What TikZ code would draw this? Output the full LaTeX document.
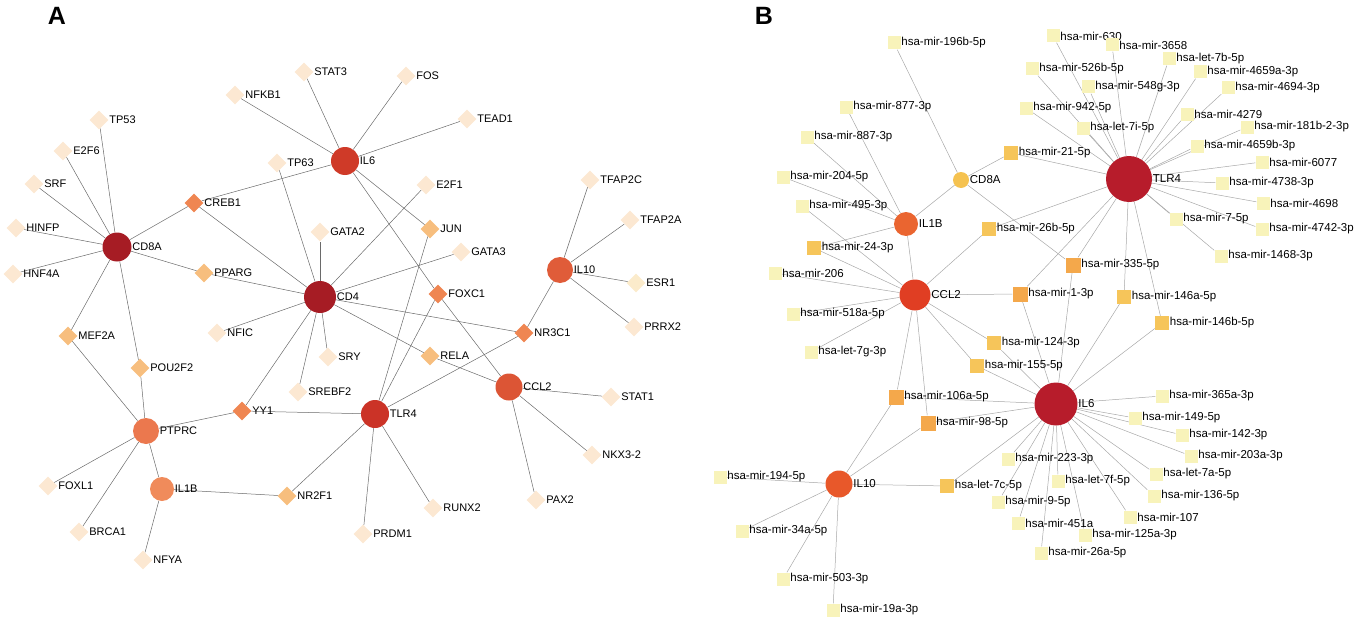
\documentclass[tikz,border=0pt]{standalone}
\usepackage{fontspec}
\setmainfont{Liberation Sans}
\usetikzlibrary{shapes.geometric,backgrounds}
\definecolor{hubdark}{HTML}{A61C24}
\definecolor{hubred}{HTML}{CF3A28}
\definecolor{hubtlr}{HTML}{CB3327}
\definecolor{hubccl}{HTML}{DC5535}
\definecolor{hubten}{HTML}{E05C39}
\definecolor{hubptp}{HTML}{EB784E}
\definecolor{hubonebee}{HTML}{F08B5B}
\definecolor{tfpale}{HTML}{FCE8D2}
\definecolor{tforange}{HTML}{EF8652}
\definecolor{tflight}{HTML}{F7BE7E}
\definecolor{mhub}{HTML}{B71C2B}
\definecolor{mccl}{HTML}{E03E23}
\definecolor{monebee}{HTML}{EA6530}
\definecolor{mten}{HTML}{E8582A}
\definecolor{mcd}{HTML}{F5C250}
\definecolor{mirpale}{HTML}{F8F3BA}
\definecolor{mirorange}{HTML}{F4A84B}
\definecolor{miryellow}{HTML}{F6C55A}
\definecolor{linkdark}{HTML}{6A6A6A}
\definecolor{linklight}{HTML}{A8A8A8}

\begin{document}
\begin{tikzpicture}[x=1pt,y=1pt]
\tikzstyle{every node}+=[inner sep=0pt]
\tikzstyle{hub}=[circle,draw=none]
\tikzstyle{tf}=[diamond,minimum size=19pt,fill=tfpale]
\tikzstyle{mir}=[rectangle,minimum size=13pt,fill=mirpale]
\tikzstyle{mirbig}=[rectangle,minimum size=15pt]
\tikzstyle{linka}=[draw=linkdark,line width=0.5pt]
\tikzstyle{linkb}=[draw=linklight,line width=0.5pt]
\tikzstyle{panel}=[font=\fontsize{25}{28}\selectfont\bfseries]
\useasboundingbox (0,0) rectangle (1358,-618);

\node[panel] (pa) at (57,-16) {A};
\node[panel] (pb) at (764,-16) {B};

\begin{scope}[every label/.style={font=\fontsize{11}{13}\selectfont,label distance=0.5pt}]
\node[hub,minimum size=29pt,fill=hubdark,label=right:CD8A] (aCD8A) at (117,-247) {};
\node[hub,minimum size=32pt,fill=hubdark,label=right:CD4] (aCD4) at (320,-297) {};
\node[hub,minimum size=28pt,fill=hubred,label=right:IL6] (aIL6) at (345,-161) {};
\node[hub,minimum size=28pt,fill=hubtlr,label=right:TLR4] (aTLR4) at (375,-414) {};
\node[hub,minimum size=27pt,fill=hubccl,label=right:CCL2] (aCCL2) at (509,-387) {};
\node[hub,minimum size=26pt,fill=hubten,label=right:IL10] (aIL10) at (560,-270) {};
\node[hub,minimum size=26pt,fill=hubptp,label=right:PTPRC] (aPTPRC) at (146,-431) {};
\node[hub,minimum size=24pt,fill=hubonebee,label=right:IL1B] (aIL1B) at (162,-489) {};

\node[tf,label=right:TP53] (aTP53) at (99,-120) {};
\node[tf,label=right:E2F6] (aE2F6) at (63,-151) {};
\node[tf,label=right:SRF] (aSRF) at (34,-184) {};
\node[tf,label=right:HINFP] (aHINFP) at (16,-228) {};
\node[tf,label=right:HNF4A] (aHNF4A) at (13,-274) {};
\node[tf,fill=tforange,label=right:CREB1] (aCREB1) at (194,-203) {};
\node[tf,fill=tflight,label=right:PPARG] (aPPARG) at (204,-273) {};
\node[tf,label=right:NFKB1] (aNFKB1) at (235,-95) {};
\node[tf,label=right:STAT3] (aSTAT3) at (304,-72) {};
\node[tf,label=right:TP63] (aTP63) at (277,-163) {};
\node[tf,label=right:GATA2] (aGATA2) at (320,-232) {};
\node[tf,label=right:FOS] (aFOS) at (406,-76) {};
\node[tf,label=right:TEAD1] (aTEAD1) at (467,-119) {};
\node[tf,label=right:E2F1] (aE2F1) at (426,-185) {};
\node[tf,fill=tflight,label=right:JUN] (aJUN) at (430,-229) {};
\node[tf,label=right:GATA3] (aGATA3) at (461,-252) {};
\node[tf,fill=tforange,label=right:FOXC1] (aFOXC1) at (438,-294) {};
\node[tf,label=right:TFAP2C] (aTFAP2C) at (590,-180) {};
\node[tf,label=right:TFAP2A] (aTFAP2A) at (630,-220) {};
\node[tf,fill=tfpale!70!mirpale,label=right:ESR1] (aESR1) at (636,-283) {};
\node[tf,label=right:PRRX2] (aPRRX2) at (634,-327) {};
\node[tf,fill=tforange,label=right:NR3C1] (aNR3C1) at (524,-333) {};
\node[tf,fill=tflight,label=right:RELA] (aRELA) at (430,-356) {};
\node[tf,fill=tflight,label=right:MEF2A] (aMEF2A) at (68,-336) {};
\node[tf,fill=tflight,label=right:POU2F2] (aPOU2F2) at (140,-368) {};
\node[tf,label=right:NFIC] (aNFIC) at (217,-333) {};
\node[tf,fill=tforange,label=right:YY1] (aYY1) at (242,-411) {};
\node[tf,label=right:SREBF2] (aSREBF2) at (298,-392) {};
\node[tf,label=right:SRY] (aSRY) at (328,-357) {};
\node[tf,label=right:FOXL1] (aFOXL1) at (48,-486) {};
\node[tf,label=right:BRCA1] (aBRCA1) at (79,-532) {};
\node[tf,label=right:NFYA] (aNFYA) at (143,-560) {};
\node[tf,fill=tflight,label=right:NR2F1] (aNR2F1) at (287,-496) {};
\node[tf,label=right:STAT1] (aSTAT1) at (611,-397) {};
\node[tf,label=right:NKX3-2] (aNKX) at (592,-455) {};
\node[tf,label=right:PAX2] (aPAX2) at (536,-500) {};
\node[tf,label=right:RUNX2] (aRUNX2) at (433,-508) {};
\node[tf,label=right:PRDM1] (aPRDM1) at (363,-534) {};
\end{scope}

\begin{scope}[on background layer]
\draw[linka] (aCD8A) -- (aTP53);
\draw[linka] (aCD8A) -- (aE2F6);
\draw[linka] (aCD8A) -- (aSRF);
\draw[linka] (aCD8A) -- (aHINFP);
\draw[linka] (aCD8A) -- (aHNF4A);
\draw[linka] (aCD8A) -- (aCREB1);
\draw[linka] (aCD8A) -- (aPPARG);
\draw[linka] (aCD8A) -- (aMEF2A);
\draw[linka] (aCD8A) -- (aPOU2F2);
\draw[linka] (aMEF2A) -- (aPTPRC);
\draw[linka] (aPOU2F2) -- (aPTPRC);
\draw[linka] (aPTPRC) -- (aFOXL1);
\draw[linka] (aPTPRC) -- (aBRCA1);
\draw[linka] (aPTPRC) -- (aIL1B);
\draw[linka] (aPTPRC) -- (aYY1);
\draw[linka] (aIL1B) -- (aNFYA);
\draw[linka] (aIL1B) -- (aNR2F1);
\draw[linka] (aCREB1) -- (aIL6);
\draw[linka] (aCREB1) -- (aCD4);
\draw[linka] (aPPARG) -- (aCD4);
\draw[linka] (aIL6) -- (aNFKB1);
\draw[linka] (aIL6) -- (aSTAT3);
\draw[linka] (aIL6) -- (aFOS);
\draw[linka] (aIL6) -- (aTEAD1);
\draw[linka] (aIL6) -- (aJUN);
\draw[linka] (aIL6) -- (aFOXC1);
\draw[linka] (aCD4) -- (aTP63);
\draw[linka] (aCD4) -- (aGATA2);
\draw[linka] (aCD4) -- (aE2F1);
\draw[linka] (aCD4) -- (aGATA3);
\draw[linka] (aCD4) -- (aNR3C1);
\draw[linka] (aCD4) -- (aRELA);
\draw[linka] (aCD4) -- (aSRY);
\draw[linka] (aCD4) -- (aSREBF2);
\draw[linka] (aCD4) -- (aYY1);
\draw[linka] (aCD4) -- (aNFIC);
\draw[linka] (aJUN) -- (aTLR4);
\draw[linka] (aFOXC1) -- (aTLR4);
\draw[linka] (aFOXC1) -- (aCCL2);
\draw[linka] (aNR3C1) -- (aTLR4);
\draw[linka] (aNR3C1) -- (aIL10);
\draw[linka] (aRELA) -- (aCCL2);
\draw[linka] (aYY1) -- (aTLR4);
\draw[linka] (aNR2F1) -- (aTLR4);
\draw[linka] (aTLR4) -- (aPRDM1);
\draw[linka] (aTLR4) -- (aRUNX2);
\draw[linka] (aCCL2) -- (aSTAT1);
\draw[linka] (aCCL2) -- (aNKX);
\draw[linka] (aCCL2) -- (aPAX2);
\draw[linka] (aIL10) -- (aTFAP2C);
\draw[linka] (aIL10) -- (aTFAP2A);
\draw[linka] (aIL10) -- (aESR1);
\draw[linka] (aIL10) -- (aPRRX2);
\end{scope}

\begin{scope}[every label/.style={font=\fontsize{11.5}{13}\selectfont,label distance=0.5pt}]
\node[hub,minimum size=46pt,fill=mhub,label=right:TLR4] (bTLR4) at (1129,-179) {};
\node[hub,minimum size=43pt,fill=mhub,label=right:IL6] (bIL6) at (1056,-404) {};
\node[hub,minimum size=31pt,fill=mccl,label=right:CCL2] (bCCL2) at (915,-295) {};
\node[hub,minimum size=24pt,fill=monebee,label=right:IL1B] (bIL1B) at (906,-224) {};
\node[hub,minimum size=16pt,fill=mcd,label=right:CD8A] (bCD8A) at (961,-180) {};
\node[hub,minimum size=27pt,fill=mten,label=right:IL10] (bIL10) at (839,-484) {};

\node[mir,label=right:hsa-mir-196b-5p] (m196b) at (894,-43) {};
\node[mir,label=right:hsa-mir-877-3p] (m877) at (846,-107) {};
\node[mir,label=right:hsa-mir-887-3p] (m887) at (807,-137) {};
\node[mir,label=right:hsa-mir-204-5p] (m204) at (783,-177) {};
\node[mir,label=right:hsa-mir-495-3p] (m495) at (802,-206) {};
\node[mirbig,minimum size=14pt,fill=miryellow,label=right:hsa-mir-24-3p] (m24) at (814,-248) {};
\node[mir,label=right:hsa-mir-206] (m206) at (775,-273) {};
\node[mir,label=right:hsa-mir-518a-5p] (m518a) at (793,-314) {};
\node[mir,label=right:hsa-let-7g-3p] (l7g) at (811,-352) {};
\node[mirbig,minimum size=14pt,fill=miryellow,label=right:hsa-mir-21-5p] (m21) at (1011,-153) {};
\node[mirbig,minimum size=14pt,fill=miryellow,label=right:hsa-mir-26b-5p] (m26b) at (989,-229) {};
\node[mirbig,fill=mirorange,label=right:hsa-mir-335-5p] (m335) at (1073,-265) {};
\node[mirbig,fill=mirorange,label=right:hsa-mir-1-3p] (m1) at (1020,-294) {};
\node[mirbig,minimum size=14pt,fill=miryellow,label=right:hsa-mir-146a-5p] (m146a) at (1124,-297) {};
\node[mirbig,minimum size=14pt,fill=miryellow,label=right:hsa-mir-146b-5p] (m146b) at (1162,-323) {};
\node[mirbig,minimum size=14pt,fill=miryellow,label=right:hsa-mir-124-3p] (m124) at (994,-343) {};
\node[mirbig,minimum size=14pt,fill=miryellow,label=right:hsa-mir-155-5p] (m155) at (977,-366) {};
\node[mirbig,fill=mirorange,label=right:hsa-mir-106a-5p] (m106a) at (896,-397) {};
\node[mirbig,fill=mirorange,label=right:hsa-mir-98-5p] (m98) at (928,-423) {};
\node[mirbig,minimum size=14pt,fill=miryellow,label=right:hsa-let-7c-5p] (l7c) at (947,-486) {};
\node[mir,label=right:hsa-mir-194-5p] (m194) at (720,-477) {};
\node[mir,label=right:hsa-mir-34a-5p] (m34a) at (742,-531) {};
\node[mir,label=right:hsa-mir-503-3p] (m503) at (783,-579) {};
\node[mir,label=right:hsa-mir-19a-3p] (m19a) at (833,-610) {};
\node[mir,label=right:hsa-mir-223-3p] (m223) at (1008,-459) {};
\node[mir,label=right:hsa-let-7f-5p] (l7f) at (1058,-481) {};
\node[mir,label=right:hsa-mir-9-5p] (m9) at (998,-502) {};
\node[mir,label=right:hsa-mir-451a] (m451a) at (1018,-523) {};
\node[mir,label=right:hsa-mir-26a-5p] (m26a) at (1041,-553) {};
\node[mir,label=right:hsa-mir-125a-3p] (m125a) at (1085,-535) {};
\node[mir,label=right:hsa-mir-107] (m107) at (1130,-517) {};
\node[mir,label=right:hsa-mir-136-5p] (m136) at (1154,-496) {};
\node[mir,label=right:hsa-let-7a-5p] (l7a) at (1156,-474) {};
\node[mir,label=right:hsa-mir-203a-3p] (m203a) at (1191,-456) {};
\node[mir,label=right:hsa-mir-142-3p] (m142) at (1182,-435) {};
\node[mir,label=right:hsa-mir-149-5p] (m149) at (1135,-418) {};
\node[mir,label=right:hsa-mir-365a-3p] (m365a) at (1162,-396) {};
\node[mir,label=right:hsa-mir-630] (m630) at (1053,-36) {};
\node[mir,label=right:hsa-mir-3658] (m3658) at (1112,-45) {};
\node[mir,label=right:hsa-let-7b-5p] (l7b) at (1169,-59) {};
\node[mir,label=right:hsa-mir-4659a-3p] (m4659a) at (1200,-72) {};
\node[mir,label=right:hsa-mir-4694-3p] (m4694) at (1228,-88) {};
\node[mir,label=right:hsa-mir-526b-5p] (m526b) at (1032,-69) {};
\node[mir,label=right:hsa-mir-548g-3p] (m548g) at (1088,-87) {};
\node[mir,label=right:hsa-mir-942-5p] (m942) at (1026,-108) {};
\node[mir,label=right:hsa-mir-4279] (m4279) at (1187,-114) {};
\node[mir,label=right:hsa-mir-181b-2-3p] (m181b) at (1247,-127) {};
\node[mir,label=right:hsa-let-7i-5p] (l7i) at (1083,-128) {};
\node[mir,label=right:hsa-mir-4659b-3p] (m4659b) at (1197,-146) {};
\node[mir,label=right:hsa-mir-6077] (m6077) at (1262,-162) {};
\node[mir,label=right:hsa-mir-4738-3p] (m4738) at (1222,-183) {};
\node[mir,label=right:hsa-mir-4698] (m4698) at (1263,-203) {};
\node[mir,label=right:hsa-mir-4742-3p] (m4742) at (1262,-229) {};
\node[mir,label=right:hsa-mir-7-5p] (m7) at (1176,-219) {};
\node[mir,label=right:hsa-mir-1468-3p] (m1468) at (1221,-256) {};
\end{scope}

\begin{scope}[on background layer]
\draw[linkb] (bCD8A) -- (m196b);
\draw[linkb] (bCD8A) -- (m21);
\draw[linkb] (bCD8A) -- (bIL1B);
\draw[linkb] (bCD8A) -- (m335);
\draw[linkb] (bIL1B) -- (m877);
\draw[linkb] (bIL1B) -- (m887);
\draw[linkb] (bIL1B) -- (m204);
\draw[linkb] (bIL1B) -- (m24);
\draw[linkb] (bIL1B) -- (bCCL2);
\draw[linkb] (bCCL2) -- (m495);
\draw[linkb] (bCCL2) -- (m24);
\draw[linkb] (bCCL2) -- (m206);
\draw[linkb] (bCCL2) -- (m518a);
\draw[linkb] (bCCL2) -- (l7g);
\draw[linkb] (bCCL2) -- (m26b);
\draw[linkb] (bCCL2) -- (m1);
\draw[linkb] (bCCL2) -- (m124);
\draw[linkb] (bCCL2) -- (m155);
\draw[linkb] (bCCL2) -- (m106a);
\draw[linkb] (bCCL2) -- (m98);
\draw[linkb] (bIL10) -- (m106a);
\draw[linkb] (bIL10) -- (m98);
\draw[linkb] (bIL10) -- (m194);
\draw[linkb] (bIL10) -- (m34a);
\draw[linkb] (bIL10) -- (m503);
\draw[linkb] (bIL10) -- (m19a);
\draw[linkb] (bIL10) -- (l7c);
\draw[linkb] (bTLR4) -- (m630);
\draw[linkb] (bTLR4) -- (m3658);
\draw[linkb] (bTLR4) -- (l7b);
\draw[linkb] (bTLR4) -- (m4659a);
\draw[linkb] (bTLR4) -- (m4694);
\draw[linkb] (bTLR4) -- (m526b);
\draw[linkb] (bTLR4) -- (m548g);
\draw[linkb] (bTLR4) -- (m942);
\draw[linkb] (bTLR4) -- (m4279);
\draw[linkb] (bTLR4) -- (m181b);
\draw[linkb] (bTLR4) -- (l7i);
\draw[linkb] (bTLR4) -- (m4659b);
\draw[linkb] (bTLR4) -- (m6077);
\draw[linkb] (bTLR4) -- (m4738);
\draw[linkb] (bTLR4) -- (m4698);
\draw[linkb] (bTLR4) -- (m4742);
\draw[linkb] (bTLR4) -- (m7);
\draw[linkb] (bTLR4) -- (m1468);
\draw[linkb] (bTLR4) -- (m21);
\draw[linkb] (bTLR4) -- (m26b);
\draw[linkb] (bTLR4) -- (m1);
\draw[linkb] (bTLR4) -- (m335);
\draw[linkb] (bTLR4) -- (m146a);
\draw[linkb] (bTLR4) -- (m146b);
\draw[linkb] (bIL6) -- (m335);
\draw[linkb] (bIL6) -- (m1);
\draw[linkb] (bIL6) -- (m146a);
\draw[linkb] (bIL6) -- (m146b);
\draw[linkb] (bIL6) -- (m124);
\draw[linkb] (bIL6) -- (m155);
\draw[linkb] (bIL6) -- (m106a);
\draw[linkb] (bIL6) -- (m98);
\draw[linkb] (bIL6) -- (l7c);
\draw[linkb] (bIL6) -- (m223);
\draw[linkb] (bIL6) -- (l7f);
\draw[linkb] (bIL6) -- (m9);
\draw[linkb] (bIL6) -- (m451a);
\draw[linkb] (bIL6) -- (m26a);
\draw[linkb] (bIL6) -- (m125a);
\draw[linkb] (bIL6) -- (m107);
\draw[linkb] (bIL6) -- (m136);
\draw[linkb] (bIL6) -- (l7a);
\draw[linkb] (bIL6) -- (m203a);
\draw[linkb] (bIL6) -- (m142);
\draw[linkb] (bIL6) -- (m149);
\draw[linkb] (bIL6) -- (m365a);
\end{scope}
\end{tikzpicture}
\end{document}
